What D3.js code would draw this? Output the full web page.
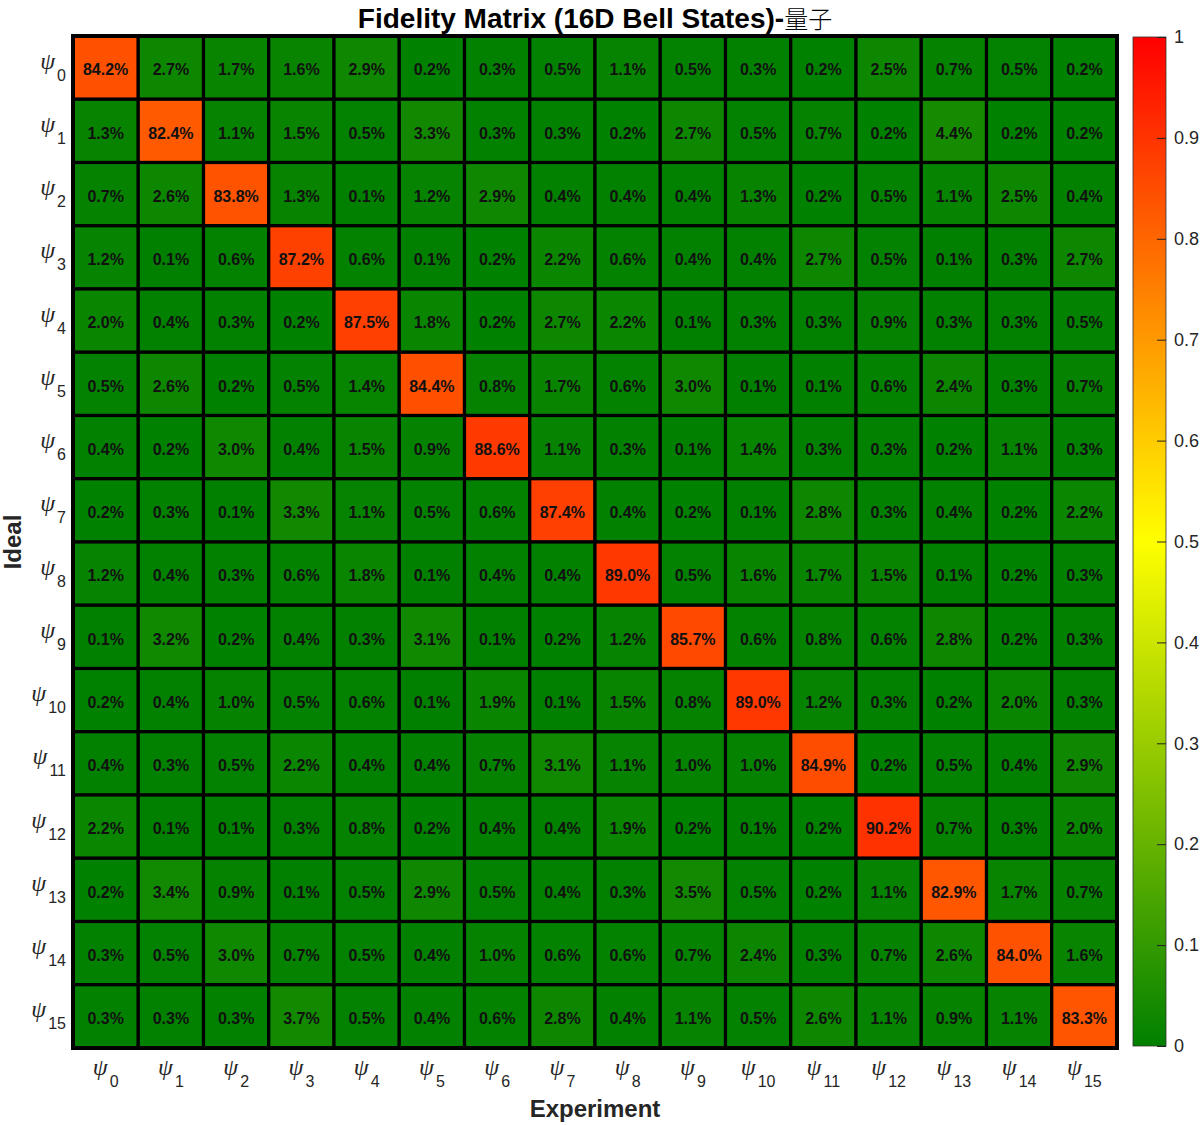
<!DOCTYPE html>
<html>
<head>
<meta charset="utf-8">
<script src="https://cdn.jsdelivr.net/npm/d3@7"></script>
<style>
  body { margin: 0; background: white; }
  svg { display: block; }
</style>
</head>
<body>
<div id="chart"></div>
<script>

// state labels (same for rows and columns)
var states = d3.range(16).map(function(i){ return String(i); });

// fidelity values in percent, one array per ideal state (row)
var row_0  = [84.2, 2.7, 1.7, 1.6, 2.9, 0.2, 0.3, 0.5, 1.1, 0.5, 0.3, 0.2, 2.5, 0.7, 0.5, 0.2];
var row_1  = [1.3, 82.4, 1.1, 1.5, 0.5, 3.3, 0.3, 0.3, 0.2, 2.7, 0.5, 0.7, 0.2, 4.4, 0.2, 0.2];
var row_2  = [0.7, 2.6, 83.8, 1.3, 0.1, 1.2, 2.9, 0.4, 0.4, 0.4, 1.3, 0.2, 0.5, 1.1, 2.5, 0.4];
var row_3  = [1.2, 0.1, 0.6, 87.2, 0.6, 0.1, 0.2, 2.2, 0.6, 0.4, 0.4, 2.7, 0.5, 0.1, 0.3, 2.7];
var row_4  = [2.0, 0.4, 0.3, 0.2, 87.5, 1.8, 0.2, 2.7, 2.2, 0.1, 0.3, 0.3, 0.9, 0.3, 0.3, 0.5];
var row_5  = [0.5, 2.6, 0.2, 0.5, 1.4, 84.4, 0.8, 1.7, 0.6, 3.0, 0.1, 0.1, 0.6, 2.4, 0.3, 0.7];
var row_6  = [0.4, 0.2, 3.0, 0.4, 1.5, 0.9, 88.6, 1.1, 0.3, 0.1, 1.4, 0.3, 0.3, 0.2, 1.1, 0.3];
var row_7  = [0.2, 0.3, 0.1, 3.3, 1.1, 0.5, 0.6, 87.4, 0.4, 0.2, 0.1, 2.8, 0.3, 0.4, 0.2, 2.2];
var row_8  = [1.2, 0.4, 0.3, 0.6, 1.8, 0.1, 0.4, 0.4, 89.0, 0.5, 1.6, 1.7, 1.5, 0.1, 0.2, 0.3];
var row_9  = [0.1, 3.2, 0.2, 0.4, 0.3, 3.1, 0.1, 0.2, 1.2, 85.7, 0.6, 0.8, 0.6, 2.8, 0.2, 0.3];
var row_10 = [0.2, 0.4, 1.0, 0.5, 0.6, 0.1, 1.9, 0.1, 1.5, 0.8, 89.0, 1.2, 0.3, 0.2, 2.0, 0.3];
var row_11 = [0.4, 0.3, 0.5, 2.2, 0.4, 0.4, 0.7, 3.1, 1.1, 1.0, 1.0, 84.9, 0.2, 0.5, 0.4, 2.9];
var row_12 = [2.2, 0.1, 0.1, 0.3, 0.8, 0.2, 0.4, 0.4, 1.9, 0.2, 0.1, 0.2, 90.2, 0.7, 0.3, 2.0];
var row_13 = [0.2, 3.4, 0.9, 0.1, 0.5, 2.9, 0.5, 0.4, 0.3, 3.5, 0.5, 0.2, 1.1, 82.9, 1.7, 0.7];
var row_14 = [0.3, 0.5, 3.0, 0.7, 0.5, 0.4, 1.0, 0.6, 0.6, 0.7, 2.4, 0.3, 0.7, 2.6, 84.0, 1.6];
var row_15 = [0.3, 0.3, 0.3, 3.7, 0.5, 0.4, 0.6, 2.8, 0.4, 1.1, 0.5, 2.6, 1.1, 0.9, 1.1, 83.3];

var rows = [row_0, row_1, row_2, row_3, row_4, row_5, row_6, row_7,
            row_8, row_9, row_10, row_11, row_12, row_13, row_14, row_15];

// colorbar ticks
var cbar_ticks = [0, 0.1, 0.2, 0.3, 0.4, 0.5, 0.6, 0.7, 0.8, 0.9, 1];

var width = 1202;
var height = 1125;

var plot = {left: 73, right: 1117, top: 36, bottom: 1048};
var cbar = {left: 1133, right: 1166, top: 37, bottom: 1046};

var text_color = '#262626';
var sans = 'Arial, "Liberation Sans", Helvetica, sans-serif';
var greek = '"Liberation Serif", "DejaVu Serif", serif';

// green -> yellow -> red colormap
var color = d3.scaleLinear()
  .domain([0, 0.5, 1])
  .range(['#008000', '#ffff00', '#ff0000'])
  .interpolate(d3.interpolateRgb);

var svg = d3.select('#chart')
  .append('svg')
  .attr('width', width)
  .attr('height', height);

var x = d3.scaleBand()
  .domain(states)
  .range([plot.left, plot.right]);

var y = d3.scaleBand()
  .domain(states)
  .range([plot.top, plot.bottom]);

// flatten into cells
var cells = [];
rows.forEach(function(r, i){
  r.forEach(function(v, j){
    cells.push({row: states[i], col: states[j], value: v});
  });
});

///////////////////////////
// Heatmap cells
///////////////////////////
var cell_group = svg.append('g')
  .classed('cells', true);

cell_group.selectAll('rect')
  .data(cells)
  .enter()
  .append('rect')
  .attr('x', function(d){ return x(d.col); })
  .attr('y', function(d){ return y(d.row); })
  .attr('width', x.bandwidth())
  .attr('height', y.bandwidth())
  .attr('fill', function(d){ return color(d.value / 100); })
  .attr('stroke', '#000')
  .attr('stroke-width', 3.2);

cell_group.selectAll('text')
  .data(cells)
  .enter()
  .append('text')
  .text(function(d){ return d.value.toFixed(1) + '%'; })
  .attr('x', function(d){ return x(d.col) + x.bandwidth()/2; })
  .attr('y', function(d){ return y(d.row) + y.bandwidth()/2 + 2; })
  .attr('dy', '0.36em')
  .style('font-family', sans)
  .style('font-weight', 700)
  .style('font-size', '16px')
  .style('fill', '#111')
  .style('text-anchor', 'middle');

// outer frame
svg.append('rect')
  .attr('x', plot.left)
  .attr('y', plot.top)
  .attr('width', plot.right - plot.left)
  .attr('height', plot.bottom - plot.top)
  .attr('fill', 'none')
  .attr('stroke', '#000')
  .attr('stroke-width', 4);

///////////////////////////
// Tick labels
///////////////////////////
var y_labels = svg.append('g')
  .selectAll('text')
  .data(states)
  .enter()
  .append('text')
  .attr('x', 66)
  .attr('y', function(d){ return y(d) + y.bandwidth()/2 + 1; })
  .style('text-anchor', 'end')
  .style('fill', text_color);

y_labels.append('tspan')
  .text('\u03c8')
  .style('font-family', greek)
  .style('font-style', 'italic')
  .style('font-size', '24px');

y_labels.append('tspan')
  .text(function(d){ return d; })
  .attr('dx', 2)
  .attr('dy', 12)
  .style('font-family', sans)
  .style('font-size', '16px');

var x_labels = svg.append('g')
  .selectAll('text')
  .data(states)
  .enter()
  .append('text')
  .attr('x', function(d){ return x(d) + x.bandwidth()/2; })
  .attr('y', 1075)
  .style('text-anchor', 'middle')
  .style('fill', text_color);

x_labels.append('tspan')
  .text('\u03c8')
  .style('font-family', greek)
  .style('font-style', 'italic')
  .style('font-size', '24px');

x_labels.append('tspan')
  .text(function(d){ return d; })
  .attr('dx', 2)
  .attr('dy', 12)
  .style('font-family', sans)
  .style('font-size', '16px');

///////////////////////////
// Title and axis names
///////////////////////////
svg.append('text')
  .attr('x', (plot.left + plot.right)/2)
  .attr('y', 28)
  .text('Fidelity Matrix (16D Bell States)-')
  .style('font-family', sans)
  .style('font-weight', 700)
  .style('font-size', '28px')
  .style('fill', '#000')
  .style('text-anchor', 'middle')
  .append('tspan')
  .text('量子')
  .style('font-family', '"Noto Sans CJK SC", sans-serif')
  .style('font-size', '24px')
  .style('font-weight', 300);

svg.append('text')
  .attr('x', (plot.left + plot.right)/2)
  .attr('y', 1117)
  .text('Experiment')
  .style('font-family', sans)
  .style('font-weight', 700)
  .style('font-size', '24px')
  .style('fill', text_color)
  .style('text-anchor', 'middle');

svg.append('text')
  .attr('transform', 'translate(' + 21 + ',' + (plot.top + plot.bottom)/2 + ') rotate(-90)')
  .text('Ideal')
  .style('font-family', sans)
  .style('font-weight', 700)
  .style('font-size', '24px')
  .style('fill', text_color)
  .style('text-anchor', 'middle');

///////////////////////////
// Colorbar
///////////////////////////
var grad = svg.append('defs')
  .append('linearGradient')
  .attr('id', 'cbar_grad')
  .attr('x1', 0).attr('y1', 1)
  .attr('x2', 0).attr('y2', 0);

grad.selectAll('stop')
  .data(color.domain())
  .enter()
  .append('stop')
  .attr('offset', function(d){ return d; })
  .attr('stop-color', function(d){ return color(d); });

svg.append('rect')
  .attr('x', cbar.left)
  .attr('y', cbar.top)
  .attr('width', cbar.right - cbar.left)
  .attr('height', cbar.bottom - cbar.top)
  .attr('fill', 'url(#cbar_grad)')
  .attr('stroke', '#333')
  .attr('stroke-width', 0.8);

var cy = d3.scaleLinear()
  .domain([0, 1])
  .range([cbar.bottom, cbar.top]);

var cbar_axis = d3.axisRight(cy)
  .tickValues(cbar_ticks)
  .tickSize(-9)
  .tickPadding(8)
  .tickFormat(d3.format('~g'));

var cax = svg.append('g')
  .attr('transform', 'translate(' + cbar.right + ',0)')
  .call(cbar_axis);

cax.select('.domain').remove();
cax.selectAll('line')
  .attr('stroke', '#222');
cax.selectAll('text')
  .style('font-family', sans)
  .style('font-size', '18px')
  .style('fill', text_color);

</script>
</body>
</html>
